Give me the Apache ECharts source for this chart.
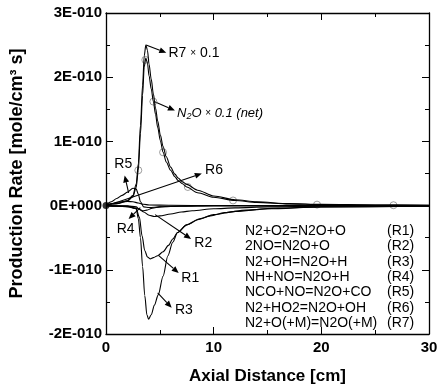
<!DOCTYPE html>
<html>
<head>
<meta charset="utf-8">
<script src="https://cdn.jsdelivr.net/npm/echarts@6.0.0/dist/echarts.min.js"></script>
<style>
  html, body { margin: 0; padding: 0; background: #fff; }
  #chart { width: 441px; height: 390px; }
</style>
</head>
<body>
<div id="chart"></div>
<script>
// rates in units of 1E-010 mole/cm3 s, distance in cm
const xR7 = [0, 1, 2, 2.5, 2.8, 3.0, 3.2, 3.4, 3.55, 3.7, 3.85, 4.0, 4.2, 4.4, 4.6, 4.8, 5.05, 5.3, 5.6, 6.0, 6.4, 6.7, 7.1, 7.5, 8.5, 10, 12, 14, 17, 20, 25, 30];
const r7  = [0.01, 0.03, 0.08, 0.16, 0.33, 0.65, 1.25, 1.88, 2.33, 2.5, 2.42, 2.2, 1.97, 1.74, 1.52, 1.32, 1.1, 0.92, 0.76, 0.6, 0.49, 0.43, 0.37, 0.33, 0.24, 0.15, 0.09, 0.06, 0.03, 0.02, 0.01, 0.005];
const n2o = [0.01, 0.03, 0.07, 0.14, 0.28, 0.55, 1.12, 1.72, 2.16, 2.3, 2.22, 2.02, 1.82, 1.62, 1.42, 1.22, 1.01, 0.83, 0.68, 0.55, 0.45, 0.39, 0.34, 0.29, 0.2, 0.13, 0.08, 0.05, 0.025, 0.015, 0.008, 0.004];

const n2oMarkX = [3.0, 3.65, 4.4, 5.3, 7.6, 11.8, 19.6, 26.7];
const n2oMarkY = [0.55, 2.27, 1.62, 0.83, 0.29, 0.08, 0.015, 0.006];

const xR1 = [0, 2, 2.8, 3.1, 3.35, 3.6, 3.85, 4.1, 4.4, 4.8, 5.3, 5.8, 6.2, 6.65, 7.5, 8.8, 10, 12, 15, 20, 30];
const r1  = [0, -0.01, -0.05, -0.18, -0.47, -0.7, -0.8, -0.83, -0.81, -0.78, -0.72, -0.62, -0.52, -0.42, -0.3, -0.2, -0.14, -0.09, -0.05, -0.02, -0.01];

const xR2 = [0, 1, 2, 3, 3.5, 4, 4.5, 5, 6, 7, 8, 10, 12, 15, 20, 30];
const r2  = [0, -0.01, -0.02, -0.05, -0.1, -0.15, -0.17, -0.16, -0.13, -0.1, -0.08, -0.05, -0.035, -0.02, -0.01, -0.005];

const xR3 = [0, 2, 2.8, 3.0, 3.2, 3.4, 3.6, 3.8, 3.95, 4.2, 4.5, 4.85, 5.3, 5.75, 6.2, 6.65, 7.5, 8.5, 9.7, 11, 13, 16, 20, 30];
const r3  = [0, -0.01, -0.04, -0.2, -0.5, -0.95, -1.4, -1.7, -1.77, -1.7, -1.55, -1.39, -1.1, -0.78, -0.57, -0.42, -0.3, -0.22, -0.16, -0.11, -0.07, -0.04, -0.02, -0.01];

const xR4 = [0, 2, 2.8, 3.1, 3.4, 3.8, 4.3, 5, 6, 10, 30];
const r4  = [0, -0.005, -0.02, -0.06, -0.08, -0.07, -0.04, -0.02, -0.01, 0, 0];

const xR5 = [0, 0.5, 1, 1.5, 2, 2.5, 2.8, 3.0, 3.2, 3.5, 4, 5, 7, 10, 30];
const r5  = [0.01, 0.06, 0.11, 0.16, 0.21, 0.27, 0.26, 0.18, 0.06, -0.02, -0.03, -0.02, -0.01, 0, 0];

const xR6 = [0, 0.5, 1, 1.5, 2, 2.5, 3, 3.5, 4, 6, 10, 30];
const r6  = [0, 0.03, 0.05, 0.06, 0.065, 0.06, 0.04, 0.02, 0.01, 0.005, 0, 0];

const xTicks = [0, 10, 20, 30];
const yTicks = [-2, -1, 0, 1, 2, 3];
const yTickLabels = ['-2E-010', '-1E-010', '0E+000', '1E-010', '2E-010', '3E-010'];

const reactions = ['N2+O2=N2O+O', '2NO=N2O+O', 'N2+OH=N2O+H', 'NH+NO=N2O+H', 'NCO+NO=N2O+CO', 'N2+HO2=N2O+OH', 'N2+O(+M)=N2O(+M)'];
const reactionTags = ['(R1)', '(R2)', '(R3)', '(R4)', '(R5)', '(R6)', '(R7)'];

// arrow annotations, in data coordinates
const notes = [
  { text: '{n|R7 }{x|×}{n| 0.1}', from: [3.72, 2.5], to: [5.6, 2.38], at: [5.8, 2.38], align: 'left' },
  { text: '{i|N}{s|2}{i|O }{x|×}{i| 0.1 (net)}', from: [4.47, 1.62], to: [6.4, 1.48], at: [6.6, 1.44], align: 'left' },
  { text: 'R6', from: [0.64, 0.03], to: [8.9, 0.5], at: [9.2, 0.55], align: 'left' },
  { text: 'R5', from: [2.1, 0.2], to: [1.73, 0.47], at: [1.6, 0.64], align: 'center' },
  { text: 'R4', from: [3.19, -0.03], to: [2.1, -0.21], at: [1.82, -0.37], align: 'center' },
  { text: 'R2', from: [4.56, -0.14], to: [7.9, -0.52], at: [8.2, -0.58], align: 'left' },
  { text: 'R1', from: [4.9, -0.78], to: [6.75, -1.05], at: [7.0, -1.13], align: 'left' },
  { text: 'R3', from: [4.8, -1.36], to: [6.1, -1.59], at: [6.4, -1.63], align: 'left' }
];

const font = 'Liberation Sans, Arial, sans-serif';
const zip = (xs, ys) => xs.map((x, i) => [x, ys[i]]);

const lineSeries = (name, xs, ys) => ({
  name, type: 'line', data: zip(xs, ys),
  showSymbol: false, smooth: 0.3, smoothMonotone: 'x',
  lineStyle: { color: '#000', width: 1.1 }, silent: true
});

const axisCommon = {
  type: 'value',
  axisLine: { show: true, onZero: false, lineStyle: { color: '#000', width: 1.3 } },
  axisTick: { show: true, inside: true, length: 7, lineStyle: { color: '#000', width: 1 } },
  minorTick: { show: true, splitNumber: 2, length: 4, lineStyle: { color: '#000', width: 1 } },
  splitLine: { show: false }
};

const chart = echarts.init(document.getElementById('chart'));
chart.setOption({
  animation: false,
  grid: { left: 100, right: 12, top: 13, bottom: 48 },
  xAxis: [{
    ...axisCommon, min: 0, max: 30, interval: 10, position: 'bottom',
    axisLabel: { color: '#000', fontSize: 15, fontWeight: 'bold', fontFamily: font, margin: 6,
      formatter: v => xTicks.includes(v) ? String(v) : '' },
    name: 'Axial Distance [cm]', nameLocation: 'middle', nameGap: 34,
    nameTextStyle: { color: '#000', fontSize: 17, fontWeight: 'bold', fontFamily: font }
  }, {
    ...axisCommon, min: 0, max: 30, interval: 10, position: 'top', axisLabel: { show: false }
  }],
  yAxis: [{
    ...axisCommon, min: -2, max: 3, interval: 1, position: 'left',
    axisLabel: { color: '#000', fontSize: 15, fontWeight: 'bold', fontFamily: font, margin: 4,
      formatter: v => yTickLabels[yTicks.indexOf(v)] },
    name: 'Production Rate [mole/cm³ s]', nameLocation: 'middle', nameGap: 80,
    nameTextStyle: { color: '#000', fontSize: 18, fontWeight: 'bold', fontFamily: font }
  }, {
    ...axisCommon, min: -2, max: 3, interval: 1, position: 'right', axisLabel: { show: false }
  }],
  series: [
    lineSeries('R7', xR7, r7),
    lineSeries('N2O', xR7, n2o),
    lineSeries('R1', xR1, r1),
    lineSeries('R2', xR2, r2),
    lineSeries('R3', xR3, r3),
    lineSeries('R4', xR4, r4),
    lineSeries('R5', xR5, r5),
    lineSeries('R6', xR6, r6),
    {
      name: 'N2O marks', type: 'scatter', data: zip(n2oMarkX, n2oMarkY),
      symbol: 'circle', symbolSize: 7, silent: true,
      itemStyle: { color: 'rgba(0,0,0,0)', borderColor: '#666', borderWidth: 0.8 }
    },
    {
      name: 'origin', type: 'scatter', data: [[0, 0]], symbolSize: 7, silent: true,
      itemStyle: { color: '#000' }
    }
  ]
});

// arrows, labels and the reaction list
const toPx = p => chart.convertToPixel({ gridIndex: 0 }, p);
const graphic = [];
const richStyle = {
  n: { fontSize: 14, fontFamily: font, fill: '#000' },
  x: { fontSize: 10, fontFamily: font, fill: '#000' },
  i: { fontSize: 13, fontStyle: 'italic', fontFamily: font, fill: '#000' },
  s: { fontSize: 9, fontStyle: 'italic', fontFamily: font, fill: '#000', padding: [7, 0, 0, 0] }
};
notes.forEach(n => {
  const a = toPx(n.from), b = toPx(n.to), t = toPx(n.at);
  const dx = b[0] - a[0], dy = b[1] - a[1];
  const len = Math.hypot(dx, dy), ux = dx / len, uy = dy / len;
  const hl = 7, hw = 3;
  const base = [b[0] - ux * hl, b[1] - uy * hl];
  graphic.push({ type: 'line', silent: true,
    shape: { x1: a[0], y1: a[1], x2: base[0], y2: base[1] },
    style: { stroke: '#000', lineWidth: 1.1 } });
  graphic.push({ type: 'polygon', silent: true,
    shape: { points: [b, [base[0] - uy * hw, base[1] + ux * hw], [base[0] + uy * hw, base[1] - ux * hw]] },
    style: { fill: '#000' } });
  graphic.push({ type: 'text', silent: true, x: t[0], y: t[1],
    style: { text: n.text, rich: richStyle, fontSize: 14, fontFamily: font, fill: '#000',
      align: n.align, verticalAlign: 'middle' } });
});
reactions.forEach((r, i) => {
  const y = 231 + i * 15.4;
  graphic.push({ type: 'text', silent: true, x: 245, y,
    style: { text: r, fontSize: 14, fontFamily: font, fill: '#000', verticalAlign: 'middle' } });
  graphic.push({ type: 'text', silent: true, x: 387, y,
    style: { text: reactionTags[i], fontSize: 14, fontFamily: font, fill: '#000', verticalAlign: 'middle' } });
});
chart.setOption({ graphic });
</script>
</body>
</html>
